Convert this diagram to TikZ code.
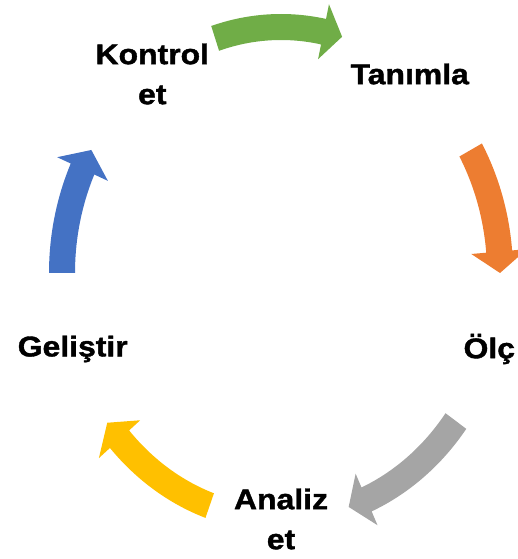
\documentclass[tikz,border=0pt]{standalone}
\usepackage{fontspec}
\usepackage{tikz}
\usetikzlibrary{positioning}
\newfontfamily\lblfont{Liberation Sans}[FakeStretch=1.12,FakeBold=1.4]
\definecolor{cgreen}{HTML}{70AD47}
\definecolor{corange}{HTML}{ED7D31}
\definecolor{cgray}{HTML}{A5A5A5}
\definecolor{cyellow}{HTML}{FFC000}
\definecolor{cblue}{HTML}{4472C4}
\tikzset{
  steplabel/.style={font=\lblfont\bfseries\fontsize{28.5}{40}\selectfont,align=center,inner sep=0pt}
}

\begin{document}
\begin{tikzpicture}[x=1pt,y=1pt]
  \useasboundingbox (0,0) rectangle (518,559);
  % curved block arrows on the ellipse (centre 281,286; radii 219,246)
  \foreach \a/\b/\c in {107.5/73.8/cgreen, 30/0/corange, -37/-72/cgray, -109/-142.5/cyellow, 180/150/cblue} {
    \pgfmathsetmacro{\h}{\b+5}
    \fill[\c] plot[domain=\a:\h,samples=40,variable=\t] ({281+232*cos(\t)},{286+259*sin(\t)})
      -- ({281+247*cos(\h)},{286+274*sin(\h)})
      -- ({281+219*cos(\b)},{286+246*sin(\b)})
      -- ({281+191*cos(\h)},{286+218*sin(\h)})
      -- plot[domain=\h:\a,samples=40,variable=\t] ({281+206*cos(\t)},{286+233*sin(\t)})
      -- cycle;
  }
  % step labels
  \node[steplabel] (tanimla)  at ({281+219*cos(54)},{286+246*sin(54)})   {Tanımla};
  \node[steplabel] (olc)      at ({281+219*cos(-18)},{286+246*sin(-18)}) {Ölç};
  \node[steplabel] (analiz)   at ({281+219*cos(-90)},{286+246*sin(-90)}) {Analiz\\et};
  \node[steplabel] (gelistir) at ({281+219*cos(198)},{286+246*sin(198)}) {Geliştir};
  \node[steplabel] (kontrol)  at ({281+219*cos(126)},{286+246*sin(126)}) {Kontrol\\et};
\end{tikzpicture}
\end{document}
